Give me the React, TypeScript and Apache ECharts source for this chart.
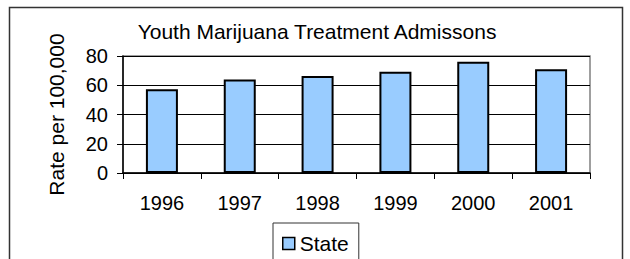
import React, { useEffect, useRef } from "react";
import * as echarts from "echarts";

const categories = ["1996", "1997", "1998", "1999", "2000", "2001"];
const stateValues = [57.2, 64.0, 66.3, 69.3, 76.1, 70.9];
const seriesName = "State";
const titleText = "Youth Marijuana Treatment Admissons";
const yAxisName = "Rate per 100,000";

export default function App() {
  const ref = useRef<HTMLDivElement>(null);
  useEffect(() => {
    if (!ref.current) return;
    const chart = echarts.init(ref.current, null, { renderer: "svg" });
    const font = "'Liberation Sans', Arial, sans-serif";
    chart.setOption({
      animation: false,
      backgroundColor: "#ffffff",
      textStyle: { fontFamily: font, color: "#000" },
      title: {
        text: titleText,
        left: 317,
        textAlign: "center",
        top: 21,
        padding: 0,
        textStyle: { fontFamily: font, fontSize: 21, fontWeight: "normal", color: "#000" },
      },
      graphic: [
        {
          type: "rect",
          z: -10,
          shape: { x: 9.5, y: 7.5, width: 613, height: 300 },
          style: { fill: "none", stroke: "#333", lineWidth: 1.5 },
        },
      ],
      legend: {
        left: 273,
        top: 223,
        orient: "horizontal",
        borderColor: "#333",
        borderWidth: 1,
        padding: [10, 10, 20, 9],
        itemWidth: 12,
        itemHeight: 12,
        icon: "rect",
        itemStyle: { borderColor: "#000", borderWidth: 1.5 },
        textStyle: { fontFamily: font, fontSize: 21, color: "#000" },
        data: [seriesName],
      },
      grid: {
        left: 123,
        right: 40,
        top: 56,
        bottom: 86,
        show: true,
        borderColor: "#808080",
        borderWidth: 1.5,
        backgroundColor: "transparent",
      },
      xAxis: {
        type: "category",
        data: categories,
        axisLine: { show: true, lineStyle: { color: "#000", width: 1.5 } },
        axisTick: { show: true, alignWithLabel: false, length: 6, lineStyle: { color: "#000" } },
        axisLabel: { margin: 20, fontFamily: font, fontSize: 20, color: "#000" },
        splitLine: { show: false },
      },
      yAxis: {
        type: "value",
        min: 0,
        max: 80,
        interval: 20,
        name: yAxisName,
        nameLocation: "middle",
        nameGap: 56,
        nameTextStyle: { fontFamily: font, fontSize: 21, color: "#000" },
        axisLine: { show: true, lineStyle: { color: "#000", width: 1.5 } },
        axisTick: { show: true, length: 6, lineStyle: { color: "#000" } },
        axisLabel: { margin: 15, fontFamily: font, fontSize: 20, color: "#000" },
        splitLine: { show: true, lineStyle: { color: "#000", width: 1 } },
      },
      series: [
        {
          name: seriesName,
          type: "bar",
          data: stateValues,
          barWidth: 32,
          itemStyle: { color: "#99CCFF", borderColor: "#000", borderWidth: 2 },
        },
      ],
    });
    return () => chart.dispose();
  }, []);
  return (
    <div
      ref={ref}
      style={{ position: "absolute", left: 0, top: 0, width: 630, height: 259 }}
    />
  );
}
